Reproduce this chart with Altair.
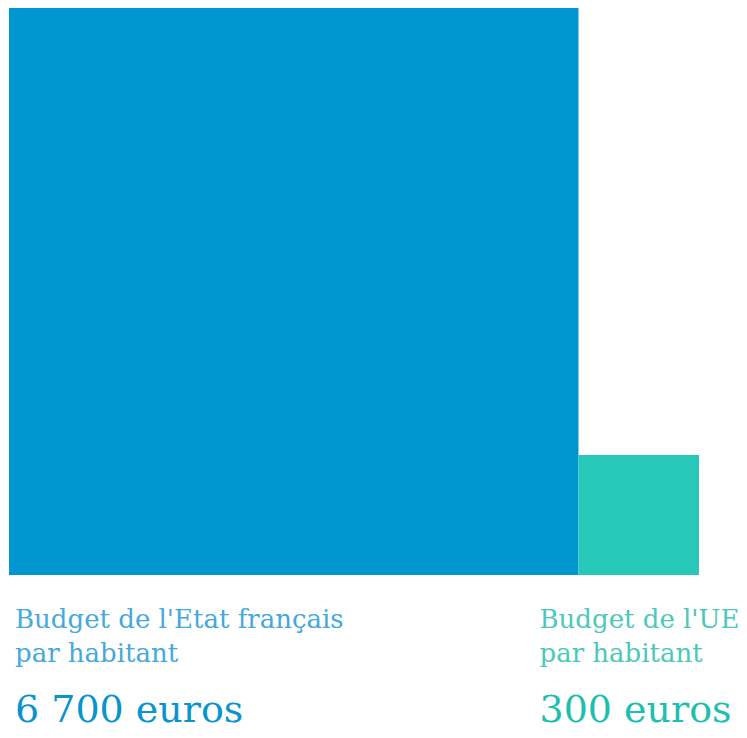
import math
import altair as alt
import pandas as pd

categories = ["Etat français", "UE"]
values = [6700, 300]
label_texts = ["Budget de l'Etat français\npar habitant", "Budget de l'UE\npar habitant"]
value_texts = ["6 700 euros", "300 euros"]

square_colors = ["#0096D0", "#27C8B8"]
label_colors = ["#45A9DA", "#4CC8BA"]
value_colors = ["#0A94CC", "#1FBFAF"]

sides = [math.sqrt(v) for v in values]
x0 = [0.0, sides[0]]
df = pd.DataFrame({
    "cat": categories,
    "value": values,
    "x0": x0,
    "x1": [a + s for a, s in zip(x0, sides)],
    "y0": [0.0, 0.0],
    "y1": sides,
    "label": label_texts,
    "vtext": value_texts,
})

total = sum(sides)
xs = alt.Scale(domain=[0, total], nice=False, zero=False)
ys = alt.Scale(domain=[0, max(sides)], nice=False, zero=False)

base = alt.Chart(df)
rects = base.mark_rect().encode(
    x=alt.X("x0:Q", scale=xs, axis=None),
    x2="x1:Q",
    y=alt.Y("y0:Q", scale=ys, axis=None),
    y2="y1:Q",
    color=alt.Color("cat:N", scale=alt.Scale(domain=categories, range=square_colors), legend=None),
)

offsets = [6, -39]
layers = [rects]
for i, cat in enumerate(categories):
    sub = base.transform_filter(alt.datum.cat == cat)
    lab = sub.mark_text(
        font="DejaVu Serif", fontSize=26, align="left", baseline="alphabetic",
        dx=offsets[i], lineBreak="\n", lineHeight=34, color=label_colors[i],
    ).encode(
        x=alt.X("x0:Q", scale=xs, axis=None),
        y=alt.value(620),
        text="label:N",
    )
    val = sub.mark_text(
        font="DejaVu Serif", fontSize=38, align="left", baseline="alphabetic",
        dx=offsets[i], color=value_colors[i],
    ).encode(
        x=alt.X("x0:Q", scale=xs, axis=None),
        y=alt.value(714),
        text="vtext:N",
    )
    layers += [lab, val]

chart = alt.layer(*layers).properties(
    width=690,
    height=567,
    padding={"left": 1, "top": 0, "right": 40, "bottom": 151},
    autosize=alt.AutoSizeParams(type="none"),
    background="white",
).configure_view(strokeWidth=0)

chart.save("out.html", embed_options={"renderer": "svg", "actions": False})
